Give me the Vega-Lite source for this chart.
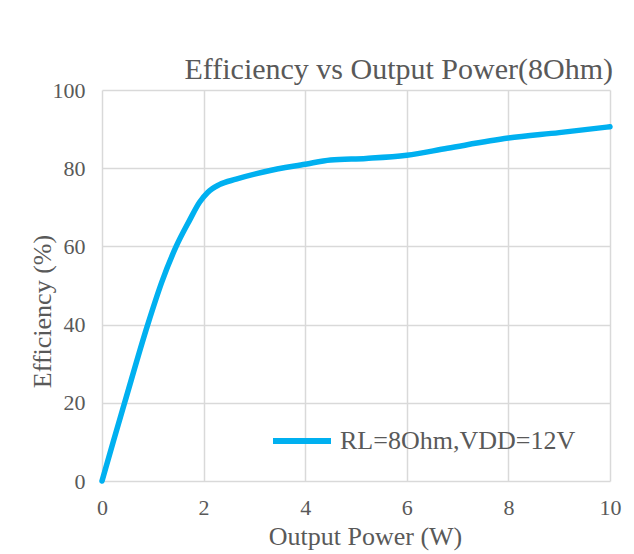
{
  "$schema": "https://vega.github.io/schema/vega-lite/v6.json",
  "width": 508,
  "height": 391,
  "autosize": "none",
  "padding": {"left": 102, "top": 90, "right": 24, "bottom": 73},
  "background": "white",
  "title": {
    "text": "Efficiency vs Output Power(8Ohm)",
    "anchor": "end",
    "font": "Liberation Serif",
    "fontSize": 30,
    "fontWeight": "normal",
    "color": "#595959",
    "offset": -6,
    "dx": -8
  },
  "config": {
    "view": {"stroke": null},
    "font": "Liberation Serif"
  },
  "data": {
    "values": [
      {"p": 0, "e": 0, "s": "RL=8Ohm,VDD=12V"},
      {"p": 0.22, "e": 10, "s": "RL=8Ohm,VDD=12V"},
      {"p": 0.445, "e": 20, "s": "RL=8Ohm,VDD=12V"},
      {"p": 0.9, "e": 40, "s": "RL=8Ohm,VDD=12V"},
      {"p": 1.18, "e": 51, "s": "RL=8Ohm,VDD=12V"},
      {"p": 1.46, "e": 60, "s": "RL=8Ohm,VDD=12V"},
      {"p": 1.72, "e": 66.6, "s": "RL=8Ohm,VDD=12V"},
      {"p": 1.92, "e": 71.3, "s": "RL=8Ohm,VDD=12V"},
      {"p": 2.08, "e": 73.8, "s": "RL=8Ohm,VDD=12V"},
      {"p": 2.31, "e": 75.8, "s": "RL=8Ohm,VDD=12V"},
      {"p": 2.64, "e": 77.2, "s": "RL=8Ohm,VDD=12V"},
      {"p": 3.2, "e": 79.1, "s": "RL=8Ohm,VDD=12V"},
      {"p": 4.0, "e": 81.0, "s": "RL=8Ohm,VDD=12V"},
      {"p": 4.5, "e": 82.1, "s": "RL=8Ohm,VDD=12V"},
      {"p": 5.2, "e": 82.5, "s": "RL=8Ohm,VDD=12V"},
      {"p": 6.0, "e": 83.3, "s": "RL=8Ohm,VDD=12V"},
      {"p": 6.8, "e": 85.1, "s": "RL=8Ohm,VDD=12V"},
      {"p": 8.0, "e": 87.7, "s": "RL=8Ohm,VDD=12V"},
      {"p": 9.0, "e": 89.1, "s": "RL=8Ohm,VDD=12V"},
      {"p": 10.0, "e": 90.6, "s": "RL=8Ohm,VDD=12V"}
    ]
  },
  "mark": {"type": "line", "interpolate": "monotone", "strokeWidth": 5.5, "strokeCap": "round"},
  "encoding": {
    "x": {
      "field": "p",
      "type": "quantitative",
      "scale": {"domain": [0, 10], "nice": false},
      "axis": {
        "title": "Output Power (W)",
        "values": [0, 2, 4, 6, 8, 10],
        "domain": false,
        "ticks": false,
        "grid": true,
        "gridColor": "#d9d9d9",
        "gridWidth": 1.5,
        "labelFont": "Liberation Serif",
        "labelFontSize": 22,
        "labelColor": "#595959",
        "labelPadding": 16,
        "labelFlush": false,
        "titleFont": "Liberation Serif",
        "titleFontSize": 26,
        "titleFontWeight": "normal",
        "titleColor": "#595959",
        "titlePadding": 5,
        "titleX": 263
      }
    },
    "y": {
      "field": "e",
      "type": "quantitative",
      "scale": {"domain": [0, 100], "nice": false},
      "axis": {
        "title": "Efficiency (%)",
        "values": [0, 20, 40, 60, 80, 100],
        "domain": false,
        "ticks": false,
        "grid": true,
        "gridColor": "#d9d9d9",
        "gridWidth": 1.5,
        "labelFont": "Liberation Serif",
        "labelFontSize": 22,
        "labelColor": "#595959",
        "labelPadding": 17,
        "labelFlush": false,
        "titleFont": "Liberation Serif",
        "titleFontSize": 26,
        "titleFontWeight": "normal",
        "titleColor": "#595959",
        "titleX": -47,
        "titleY": 221
      }
    },
    "color": {
      "field": "s",
      "type": "nominal",
      "scale": {"range": ["#00B0F0"]},
      "legend": {
        "title": null,
        "orient": "none",
        "legendX": 168,
        "legendY": 319,
        "symbolType": "stroke",
        "symbolStrokeWidth": 6,
        "symbolSize": 3364,
        "labelFont": "Liberation Serif",
        "labelFontSize": 26,
        "labelColor": "#595959",
        "labelOffset": 6,
        "labelLimit": 400
      }
    }
  }
}
